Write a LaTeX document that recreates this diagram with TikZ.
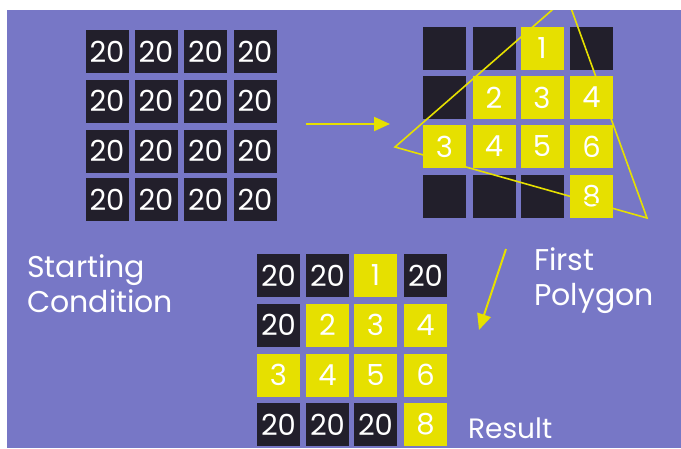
\documentclass[tikz,border=0pt]{standalone}
\usepackage{fontspec}
\setmainfont{Poppins}
\usetikzlibrary{arrows.meta}
\definecolor{bgp}{HTML}{7777C6}
\definecolor{cy}{HTML}{E6E000}
\definecolor{ck}{HTML}{221F2B}
\tikzset{
  cell/.style={minimum width=43pt,minimum height=43pt,inner sep=0pt,text=white,font=\fontsize{29}{29}\selectfont},
  dk/.style={cell,fill=ck},
  yl/.style={cell,fill=cy},
  lbl/.style={anchor=base west,text=white,inner sep=0pt,font=\fontsize{30}{30}\selectfont},
  yarrow/.style={draw=cy,line width=2pt,-{Triangle[length=16pt,width=14pt]}},
  tri/.style={draw=cy,line width=1.6pt,line join=miter}
}
\begin{document}
\begin{tikzpicture}[x=1pt,y=-1pt]
\useasboundingbox (0,0) rectangle (681,448);
\fill[white] (0,0) rectangle (681,448);
\fill[bgp] (7,10) rectangle (681,448);
% starting grid
\foreach \c/\x in {1/107,2/156,3/205.5,4/255}{
  \foreach \r/\y in {1/51.5,2/101,3/151,4/199.5}{
    \node[dk] (a\r\c) at (\x,\y) {20};
  }
}
% first polygon grid
\node[dk] (b11) at (444.5,48.5) {};
\node[dk] (b12) at (494,48.5) {};
\node[yl] (b13) at (542,48.5) {1};
\node[dk] (b14) at (591.5,48.5) {};
\node[dk] (b21) at (444.5,97.5) {};
\node[yl] (b22) at (494,97.5) {2};
\node[yl] (b23) at (542,97.5) {3};
\node[yl] (b24) at (591.5,97.5) {4};
\node[yl] (b31) at (444.5,146.5) {3};
\node[yl] (b32) at (494,146.5) {4};
\node[yl] (b33) at (542,146.5) {5};
\node[yl] (b34) at (591.5,146.5) {6};
\node[dk] (b41) at (444.5,196) {};
\node[dk] (b42) at (494,196) {};
\node[dk] (b43) at (542,196) {};
\node[yl] (b44) at (591.5,196) {8};
% triangle
\coordinate (tA) at (567,-3);
\coordinate (tB) at (395,147);
\coordinate (tC) at (647,218);
\begin{scope}
\clip (7,10) rectangle (681,448);
\draw[tri] (tA) -- (tB) -- (tC) -- cycle;
\end{scope}
% result grid
\node[dk] (c11) at (278.5,275.5) {20};
\node[dk] (c12) at (327.5,275.5) {20};
\node[yl] (c13) at (375.5,275.5) {1};
\node[dk] (c14) at (425.5,275.5) {20};
\node[dk] (c21) at (278.5,325) {20};
\node[yl] (c22) at (327.5,325) {2};
\node[yl] (c23) at (375.5,325) {3};
\node[yl] (c24) at (425.5,325) {4};
\node[yl] (c31) at (278.5,375) {3};
\node[yl] (c32) at (327.5,375) {4};
\node[yl] (c33) at (375.5,375) {5};
\node[yl] (c34) at (425.5,375) {6};
\node[dk] (c41) at (278.5,424.5) {20};
\node[dk] (c42) at (327.5,424.5) {20};
\node[dk] (c43) at (375.5,424.5) {20};
\node[yl] (c44) at (425.5,424.5) {8};
% arrows
\coordinate (p1s) at (306,124);
\coordinate (p1e) at (390,124);
\draw[yarrow] (p1s) -- (p1e);
\coordinate (p2s) at (506,249);
\coordinate (p2e) at (479,330);
\draw[yarrow] (p2s) -- (p2e);
% labels
\node[lbl] (l1) at (27,277) {Starting};
\node[lbl] (l2) at (27,312) {Condition};
\node[lbl] (l3) at (534,270) {First};
\node[lbl] (l4) at (534,305) {Polygon};
\node[lbl,font=\fontsize{28}{28}\selectfont] (l5) at (468,438) {Result};
\end{tikzpicture}
\end{document}
